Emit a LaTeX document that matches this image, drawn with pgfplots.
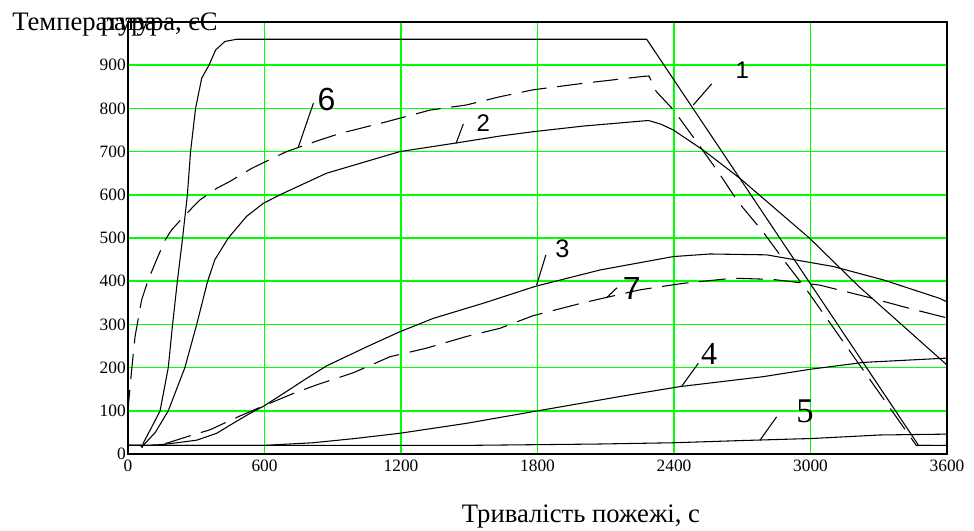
\documentclass[border=0pt]{standalone}
\usepackage{pgfplots}
\pgfplotsset{compat=1.18}
\usepackage{fontspec}
\setmainfont{Liberation Serif}
\newfontfamily\sansf{Liberation Sans}
\definecolor{grn}{RGB}{0,255,0}
\begin{document}
\begin{tikzpicture}
\useasboundingbox (-96pt,-57.75pt) rectangle (634.5pt,340.5pt);
\begin{axis}[
  at={(0,0)}, anchor=south west,
  scale only axis, width=614.25pt, height=324pt,
  xmin=0, xmax=3600, ymin=0, ymax=1000,
  xtick={0,600,...,3600}, ytick={0,100,...,900},
  grid=major, grid style={grn, line width=1.2pt},
  major tick length=0pt,
  axis line style={black, line width=0.9pt},
  tick label style={font=\fontsize{13}{13}\selectfont},
  yticklabel style={inner xsep=1.5pt},
  xticklabel style={yshift=-1pt},
  /pgf/number format/assume math mode=true,
  /pgf/number format/1000 sep={},
  scaled ticks=false,
  clip=false,
]
% curve 1
\addplot[black, mark=none, line width=0.8pt] coordinates {(0,20) (55,20) (62,16) (67,25) (100,58) (141,100) (177,200) (196,300) (217,400) (240,500) (261,600) (275,700) (297,800) (324,870) (356,900) (385,935) (426,955) (478,960) (2280,960) (3475,20) (3600,20)};
% curve 2
\addplot[black, mark=none, line width=0.8pt] coordinates {(0,20) (55,20) (62,16) (67,20) (120,50) (177,100) (250,200) (302,300) (350,400) (382,450) (441,500) (521,550) (594,580) (668,600) (873,650) (1195,700) (1443,720) (1635,736) (1780,746) (2000,759) (2287,772) (2340,764) (2397,750) (2527,704) (2690,638) (2997,499) (3214,387) (3600,206)};
% curve 6 (dashed)
\addplot[black, mark=none, line width=0.8pt, dash pattern=on 19pt off 8pt] coordinates {(0,90) (3,120) (16,194) (31,272) (60,357) (89,403) (130,455) (163,495) (192,519) (258,557) (316,588) (390,615) (448,631) (543,661) (594,674) (697,700) (844,727) (932,742) (1136,769) (1327,796) (1488,808) (1635,827) (1780,843) (2000,858) (2264,874) (2290,875) (2322,839) (2397,797) (2499,723) (2593,654) (2681,584) (2790,515) (2888,445) (2983,380) (3465,20) (3600,20)};
% curve 3
\addplot[black, mark=none, line width=0.8pt] coordinates {(0,20) (100,20) (170,23) (302,32) (390,48) (462,71) (536,94) (594,110) (683,140) (785,175) (873,204) (1049,248) (1195,283) (1342,314) (1562,349) (1790,388) (2075,426) (2397,457) (2558,463) (2807,461) (3100,434) (3320,403) (3569,360) (3600,352)};
% curve 7 (dashed)
\addplot[black, mark=none, line width=0.8pt, dash pattern=on 20pt off 8pt] coordinates {(0,20) (100,20) (170,25) (272,42) (360,56) (492,88) (594,111) (726,140) (829,160) (990,188) (1151,225) (1312,245) (1488,272) (1635,291) (1780,320) (2000,350) (2250,380) (2440,395) (2660,407) (2836,404) (3040,391) (3245,364) (3450,335) (3600,315)};
% curve 4
\addplot[black, mark=none, line width=0.8pt] coordinates {(0,20) (600,20) (813,26) (1000,36) (1195,48) (1488,71) (1780,98) (2206,137) (2426,156) (2792,179) (2997,196) (3232,212) (3600,222)};
% curve 5
\addplot[black, mark=none, line width=0.8pt] coordinates {(0,20) (1500,20) (2058,23) (2397,26) (2690,31) (3012,36) (3305,44) (3600,46)};
% labels and leaders
\draw[line width=0.8pt] (axis cs:2485,808) -- (axis cs:2566,857);
\node[font=\sansf\fontsize{18}{18}\selectfont] at (axis cs:2700,889) {1};
\draw[line width=0.8pt] (axis cs:1442,719) -- (axis cs:1474,764);
\node[font=\sansf\fontsize{18}{18}\selectfont] at (axis cs:1562,767) {2};
\draw[line width=0.8pt] (axis cs:1796,391) -- (axis cs:1837,461);
\node[font=\sansf\fontsize{19}{19}\selectfont] at (axis cs:1910,474) {3};
\draw[line width=0.8pt] (axis cs:2434,157) -- (axis cs:2507,210);
\node[font=\fontsize{24}{24}\selectfont] at (axis cs:2554,231) {4};
\draw[line width=0.8pt] (axis cs:2778,32) -- (axis cs:2851,86);
\node[font=\fontsize{26}{26}\selectfont] at (axis cs:2976,98) {5};
\draw[line width=0.8pt] (axis cs:749,711) -- (axis cs:815,812);
\node[font=\sansf\fontsize{24}{24}\selectfont] at (axis cs:873,820) {6};
\draw[line width=0.8pt] (axis cs:2104,362) -- (axis cs:2150,385);
\node[font=\sansf\fontsize{24}{24}\selectfont] at (axis cs:2214,384) {7};
\end{axis}
\node[anchor=base west, font=\fontsize{20}{20}\selectfont, inner sep=0pt] at (-87pt,317.25pt) {Температура};
\node[anchor=base east, font=\fontsize{20}{20}\selectfont, inner sep=0pt] at (67.5pt,317.25pt) {ратура, єС};
\node[font=\fontsize{20}{20}\selectfont] at (339.75pt,-47pt) {Тривалість пожежі, с};
\end{tikzpicture}
\end{document}
